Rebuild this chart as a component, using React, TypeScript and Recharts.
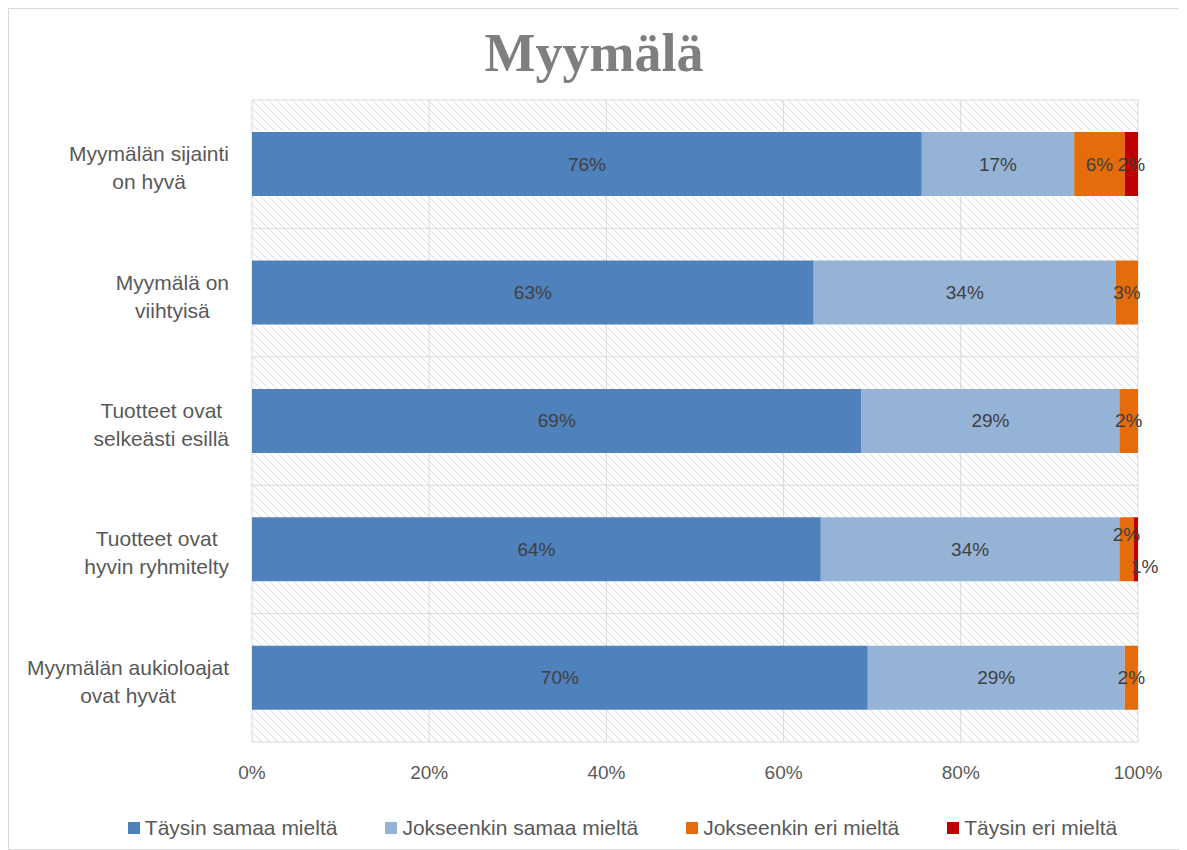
import React from "react"
import {
  Bar,
  BarChart,
  CartesianGrid,
  LabelList,
  Legend,
  XAxis,
  YAxis,
} from "recharts"

const categories = [
  ["Myymälän sijainti", "on hyvä"],
  ["Myymälä on", "viihtyisä"],
  ["Tuotteet ovat", "selkeästi esillä"],
  ["Tuotteet ovat", "hyvin ryhmitelty"],
  ["Myymälän aukioloajat", "ovat hyvät"],
]

const taysinSamaa = [75.6, 63.4, 68.8, 64.2, 69.5]
const jokseenkinSamaa = [17.2, 34.1, 29.1, 33.7, 29.0]
const jokseenkinEri = [5.7, 2.5, 2.1, 1.6, 1.5]
const taysinEri = [1.5, 0, 0, 0.5, 0]

const xTicks = [0, 20, 40, 60, 80, 100]

const series = [
  { key: "a", name: "Täysin samaa mieltä", color: "#4f81bd", values: taysinSamaa },
  { key: "b", name: "Jokseenkin samaa mieltä", color: "#95b3d7", values: jokseenkinSamaa },
  { key: "c", name: "Jokseenkin eri mieltä", color: "#e46c0a", values: jokseenkinEri },
  { key: "d", name: "Täysin eri mieltä", color: "#c00000", values: taysinEri },
]

const data = categories.map((lines, i) => {
  const row: any = { name: lines.join(" "), lines }
  series.forEach((s) => (row[s.key] = s.values[i]))
  return row
})

const FONT = "'Liberation Sans', Arial, sans-serif"
const CAT_SIZE = 21
const LABEL_SIZE = 19

let ctx: CanvasRenderingContext2D | null = null
function measure(text: string) {
  if (!ctx) ctx = document.createElement("canvas").getContext("2d")
  if (!ctx) return text.length * 10
  ctx.font = `${CAT_SIZE}px ${FONT}`
  return ctx.measureText(text).width
}

function CategoryTick({ x, y, payload }: any) {
  const lines: string[] = data[payload.index]?.lines ?? [payload.value]
  const w = Math.max(...lines.map(measure))
  const cx = x - 15 - w / 2
  return (
    <text textAnchor="middle" fill="#595959" fontSize={CAT_SIZE} fontFamily={FONT}>
      {lines.map((l, i) => (
        <tspan key={i} x={cx} y={y - 3 + i * 28}>
          {l}
        </tspan>
      ))}
    </text>
  )
}

// excel pushes the two tiny labels of row 4 apart
function nudgeFor(key: string, value: number): [number, number] {
  if (key === "c" && value === jokseenkinEri[3]) return [0, -15]
  if (key === "d" && value === taysinEri[3]) return [9, 17]
  return [0, 0]
}

function makeLabel(key: string) {
  return (props: any) => {
    const { x, y, width, height, value } = props
    if (!value) return null
    const [dx, dy] = nudgeFor(key, Number(value))
    return (
      <text
        x={Number(x) + Number(width) / 2 + dx}
        y={Number(y) + Number(height) / 2 + dy}
        textAnchor="middle"
        dominantBaseline="central"
        fill="#404040"
        fontSize={LABEL_SIZE}
        fontFamily={FONT}
      >
        {`${Math.round(Number(value))}%`}
      </text>
    )
  }
}

function LegendContent() {
  return (
    <div
      style={{
        display: "flex",
        justifyContent: "center",
        alignItems: "center",
        gap: 48,
        height: 30,
        paddingLeft: 98,
        fontFamily: FONT,
        fontSize: CAT_SIZE,
        color: "#595959",
      }}
    >
      {series.map((s) => (
        <div key={s.key} style={{ display: "flex", alignItems: "center", gap: 5 }}>
          <span style={{ width: 12, height: 12, background: s.color, display: "inline-block" }} />
          <span>{s.name}</span>
        </div>
      ))}
    </div>
  )
}

export default function App() {
  return (
    <div
      style={{
        position: "relative",
        width: 1172,
        height: 842,
        border: "1px solid #d9d9d9",
        boxSizing: "border-box",
        background: "#fff",
      }}
    >
      <div
        style={{
          position: "absolute",
          top: 14,
          left: 0,
          right: 0,
          textAlign: "center",
          fontFamily: "'Liberation Serif', serif",
          fontWeight: "bold",
          fontSize: 54,
          color: "#7f7f7f",
          lineHeight: "60px",
        }}
      >
        Myymälä
      </div>
      <BarChart
        width={1170}
        height={840}
        data={data}
        layout="vertical"
        barCategoryGap="25%"
        margin={{ top: 91, right: 41, bottom: 6, left: 0 }}
      >
        <defs>
          <pattern id="hatch" width={8} height={8} patternUnits="userSpaceOnUse">
            <rect width={8} height={8} fill="#fff" />
            <path
              d="M-2,-2 L10,10 M-2,6 L2,10 M6,-2 L10,2"
              stroke="#d9d9d9"
              strokeWidth={1.1}
              strokeDasharray="2 1"
            />
          </pattern>
        </defs>
        <CartesianGrid
          stroke="#d9d9d9"
          fill="url(#hatch)"
          fillOpacity={1}
          horizontalCoordinatesGenerator={({ offset }: any) =>
            categories
              .map((_, i) => offset.top + (i * offset.height) / categories.length)
              .concat(offset.top + offset.height)
          }
        />
        <XAxis
          type="number"
          domain={[0, 100]}
          ticks={xTicks}
          tickFormatter={(v) => `${v}%`}
          axisLine={false}
          tickLine={false}
          tickSize={0}
          tickMargin={24}
          height={71}
          tick={{ fill: "#595959", fontSize: LABEL_SIZE, fontFamily: FONT }}
        />
        <YAxis
          type="category"
          dataKey="name"
          width={243}
          axisLine={false}
          tickLine={false}
          tick={<CategoryTick />}
          interval={0}
        />
        {series.map((s) => (
          <Bar
            key={s.key}
            dataKey={s.key}
            name={s.name}
            stackId="x"
            fill={s.color}
            isAnimationActive={false}
          >
            <LabelList dataKey={s.key} content={makeLabel(s.key)} />
          </Bar>
        ))}
        <Legend verticalAlign="bottom" content={<LegendContent />} />
      </BarChart>
    </div>
  )
}
